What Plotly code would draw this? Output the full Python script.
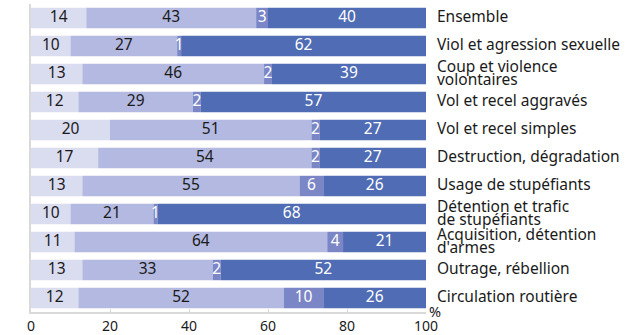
import plotly.graph_objects as go

categories = [
    "Ensemble",
    "Viol et agression sexuelle",
    "Coup et violence\nvolontaires",
    "Vol et recel aggravés",
    "Vol et recel simples",
    "Destruction, dégradation",
    "Usage de stupéfiants",
    "Détention et trafic\nde stupéfiants",
    "Acquisition, détention\nd'armes",
    "Outrage, rébellion",
    "Circulation routière",
]
seg1 = [14, 10, 13, 12, 20, 17, 13, 10, 11, 13, 12]
seg2 = [43, 27, 46, 29, 51, 54, 55, 21, 64, 33, 52]
seg3 = [3, 1, 2, 2, 2, 2, 6, 1, 4, 2, 10]
seg4 = [40, 62, 39, 57, 27, 27, 26, 68, 21, 52, 26]
x_ticks = [0, 20, 40, 60, 80, 100]

series = [seg1, seg2, seg3, seg4]
colors = ["#dadcf0", "#b3b9e0", "#7b86c6", "#4f6cb5"]
text_colors = ["#1a1a1a", "#1a1a1a", "#ffffff", "#ffffff"]

FONT = "Noto Sans"
ypos = list(range(len(categories)))

fig = go.Figure()
base = [0] * len(categories)
for vals, col, tcol in zip(series, colors, text_colors):
    fig.add_trace(go.Bar(
        y=ypos, x=vals, base=base, orientation="h",
        marker=dict(color=col, line=dict(width=0)),
        hoverinfo="skip", showlegend=False,
    ))
    mids = [b + v / 2 for b, v in zip(base, vals)]
    fig.add_trace(go.Scatter(
        y=ypos, x=mids, mode="text", text=[str(v) for v in vals],
        textfont=dict(family=FONT, size=15.5, color=tcol),
        textposition="middle center", hoverinfo="skip", showlegend=False,
    ))
    base = [b + v for b, v in zip(base, vals)]

# category labels at the right of the bars (two-line labels set tightly)
annotations = []
for i, cat in enumerate(categories):
    lines = cat.split("\n")
    n = len(lines)
    for j, line in enumerate(lines):
        annotations.append(dict(
            x=1.0, xref="paper", xshift=10, y=i, yref="y",
            yshift=2 + (n - 1) * 6.5 - j * 13,
            text=line, showarrow=False, xanchor="left", yanchor="middle",
            borderpad=0,
            font=dict(family=FONT, size=15.5, color="#1a1a1a"),
        ))
annotations.append(dict(
    x=1.0, xref="paper", xshift=2, y=0, yref="paper", yshift=1,
    text="%", showarrow=False, xanchor="left", yanchor="middle",
    borderpad=0,
    font=dict(family=FONT, size=14.5, color="#1a1a1a"),
))

fig.update_layout(
    width=644, height=335,
    margin=dict(l=31, r=218, t=4, b=23),
    plot_bgcolor="white", paper_bgcolor="white",
    barmode="overlay", bargap=0.27,
    annotations=annotations,
    xaxis=dict(
        range=[0, 100], tickvals=x_ticks, ticktext=[str(t) for t in x_ticks],
        showgrid=False, zeroline=False, showline=True, linecolor="#d9d9d9",
        linewidth=1.5, ticks="inside", ticklen=3, tickcolor="#d9d9d9",
        tickfont=dict(family=FONT, size=14, color="#1a1a1a"),
        automargin=False, fixedrange=True,
    ),
    yaxis=dict(
        range=[len(categories) - 0.5, -0.5], showticklabels=False,
        showgrid=False, zeroline=False, showline=True, linecolor="#d9d9d9",
        linewidth=1.5, ticks="", automargin=False, fixedrange=True,
    ),
)

fig.write_html("out.html")
